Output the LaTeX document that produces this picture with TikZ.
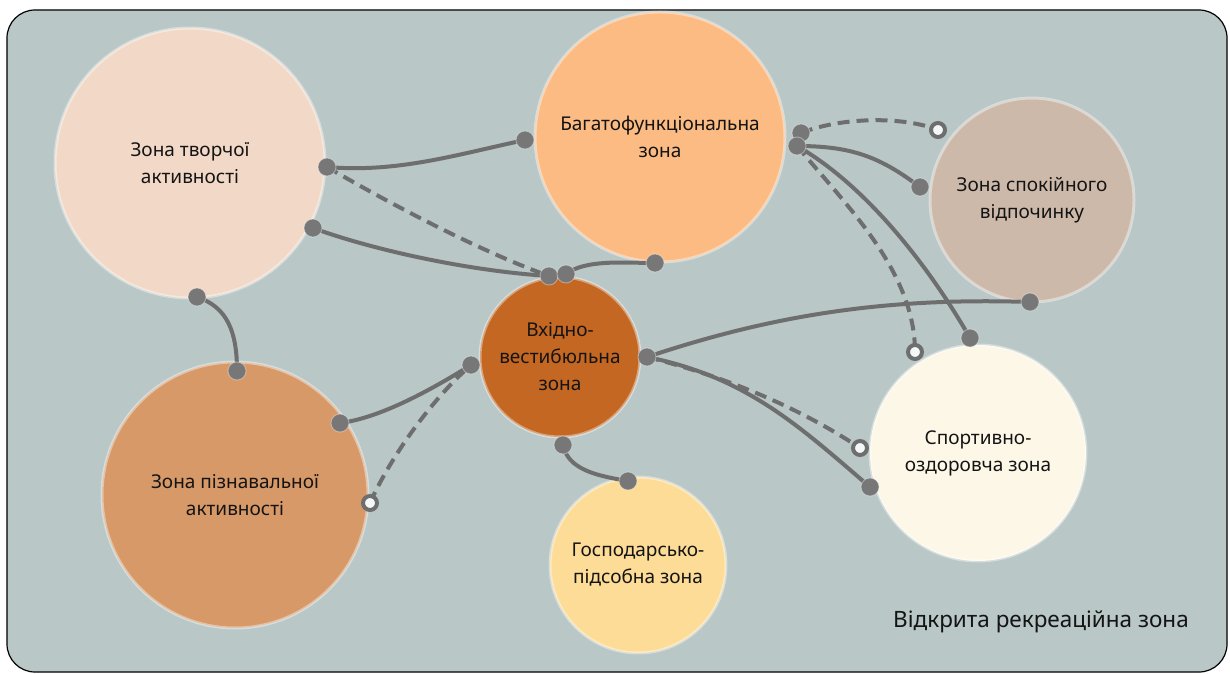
\documentclass[tikz,border=0pt]{standalone}
\usepackage{fontspec}
\setmainfont{Noto Sans}
\definecolor{bgc}{HTML}{B9C7C7}
\definecolor{ctv}{HTML}{F2D9C7}
\definecolor{cbf}{HTML}{FBBB82}
\definecolor{csp}{HTML}{CDB9AA}
\definecolor{cvh}{HTML}{C46722}
\definecolor{csz}{HTML}{FDF7E8}
\definecolor{cpz}{HTML}{D89968}
\definecolor{cgs}{HTML}{FCDC96}
\definecolor{lc}{HTML}{6E6E6E}
\definecolor{dotc}{HTML}{777777}
\definecolor{txt}{HTML}{141414}
\begin{document}
\begin{tikzpicture}[x=1bp,y=-1bp,
  zone/.style={circle, inner sep=0pt, align=center, text=txt,
    font=\fontsize{19bp}{27bp}\selectfont, draw=white, draw opacity=0.4, line width=3bp},
  conn/.style={draw=lc, line width=4bp},
  dashconn/.style={conn, dash pattern=on 12bp off 7bp},
  dotn/.style={circle, fill=dotc, draw=white, draw opacity=0.35, line width=1bp,
    minimum size=18bp, inner sep=0pt},
  opendot/.style={circle, fill=white!85!bgc, draw=lc, line width=4bp,
    minimum size=14bp, inner sep=0pt}
]
\useasboundingbox (0,0) rectangle (1230,674);
\node[draw=black, line width=1.2bp, fill=bgc, rounded corners=28bp, inner sep=0pt,
  minimum width=1220bp, minimum height=662bp] (frame) at (617,341) {};

% zones
\node[zone, fill=ctv, minimum size=270bp] (tv) at (190,163) {Зона творчої\\активності};
\node[zone, fill=cbf, minimum size=250bp] (bf) at (660,137) {Багатофункціональна\\зона};
\node[zone, fill=csp, minimum size=204bp] (sp) at (1032,200) {Зона спокійного\\відпочинку};
\node[zone, fill=cvh, minimum size=160bp] (vh) at (560,357) {Вхідно-\\вестибюльна\\зона};
\node[zone, fill=csz, minimum size=216bp] (sz) at (978,453) {Спортивно-\\оздоровча зона};
\node[zone, fill=cpz, minimum size=266bp] (pz) at (235,495) {Зона пізнавальної\\активності};
\node[zone, fill=cgs, minimum size=176bp] (gs) at (638,565) {Господарсько-\\підсобна зона};

\node[text=txt, font=\fontsize{22.5bp}{26bp}\selectfont] (open) at (1041,622) {Відкрита рекреаційна зона};

% connection points
\coordinate (t1) at (327,167);
\coordinate (t2) at (313,228);
\coordinate (t3) at (197,297);
\coordinate (b1) at (525,140);
\coordinate (b2) at (655,263);
\coordinate (b3) at (801,133);
\coordinate (b4) at (797,146);
\coordinate (v1) at (549,276);
\coordinate (v2) at (566,274);
\coordinate (v3) at (471,365);
\coordinate (v4) at (563,445);
\coordinate (v5) at (647,357);
\coordinate (s1) at (938,130);
\coordinate (s2) at (920,187);
\coordinate (s3) at (1030,302);
\coordinate (z1) at (915,352);
\coordinate (z2) at (970,338);
\coordinate (z3) at (860,448);
\coordinate (z4) at (870,487);
\coordinate (p1) at (237,371);
\coordinate (p2) at (340,423);
\coordinate (p3) at (370,503);
\coordinate (g1) at (628,481);

% connectors
\draw[conn] (t1) .. controls +(70,6) and +(-70,15) .. (b1);
\draw[dashconn] (t1) .. controls +(60,35) and +(-70,-25) .. (v1);
\draw[conn] (t2) .. controls +(60,22) and +(-80,-5) .. (v1);
\draw[conn] (v2) .. controls +(20,-15) and +(-30,0) .. (b2);
\draw[conn] (t3) .. controls +(30,10) and +(0,-40) .. (p1);
\draw[conn] (p2) .. controls +(40,-5) and +(-40,25) .. (v3);
\draw[dashconn] (p3) .. controls +(20,-45) and +(-40,35) .. (v3);
\draw[conn] (v4) .. controls +(5,25) and +(-30,-5) .. (g1);
\draw[dashconn] (b3) .. controls +(40,-16) and +(-35,-14) .. (s1);
\draw[conn] (b4) .. controls +(55,0) and +(-40,-30) .. (s2);
\draw[dashconn] (b4) .. controls +(50,60) and +(0,-80) .. (z1);
\draw[conn] (b4) .. controls +(70,40) and +(-40,-70) .. (z2);
\draw[conn] (v5) .. controls +(120,-40) and +(-150,-5) .. (s3);
\draw[dashconn] (v5) .. controls +(80,20) and +(-60,-40) .. (z3);
\draw[conn] (v5) .. controls +(100,20) and +(-70,-60) .. (z4);

% dots
\node[dotn] (dt1) at (t1) {};
\node[dotn] (dt2) at (t2) {};
\node[dotn] (dt3) at (t3) {};
\node[dotn] (db1) at (b1) {};
\node[dotn] (db2) at (b2) {};
\node[dotn] (db3) at (b3) {};
\node[dotn] (db4) at (b4) {};
\node[dotn] (dv1) at (v1) {};
\node[dotn] (dv2) at (v2) {};
\node[dotn] (dv3) at (v3) {};
\node[dotn] (dv4) at (v4) {};
\node[dotn] (dv5) at (v5) {};
\node[opendot] (ds1) at (s1) {};
\node[dotn] (ds2) at (s2) {};
\node[dotn] (ds3) at (s3) {};
\node[opendot] (dz1) at (z1) {};
\node[dotn] (dz2) at (z2) {};
\node[opendot] (dz3) at (z3) {};
\node[dotn] (dz4) at (z4) {};
\node[dotn] (dp1) at (p1) {};
\node[dotn] (dp2) at (p2) {};
\node[opendot] (dp3) at (p3) {};
\node[dotn] (dg1) at (g1) {};
\end{tikzpicture}
\end{document}
